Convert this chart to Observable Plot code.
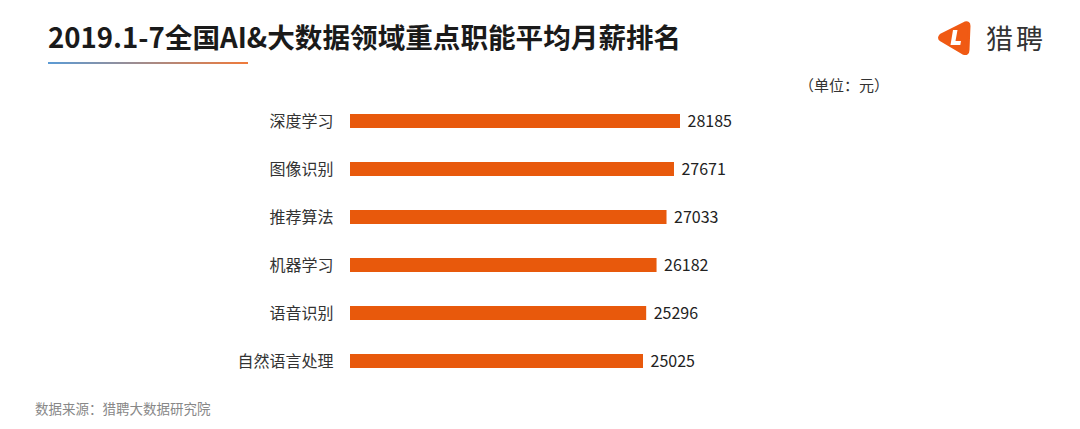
<!DOCTYPE html>
<html><head><meta charset="utf-8">
<script src="https://cdn.jsdelivr.net/npm/d3@7"></script>
<script src="https://cdn.jsdelivr.net/npm/@observablehq/plot@0.6"></script>
<style>
html,body{margin:0;padding:0;background:#fff;width:1080px;height:429px;overflow:hidden;font-family:"Microsoft YaHei","Noto Sans CJK SC","Noto Sans",sans-serif;}
#wrap{position:relative;width:1080px;height:429px;}
#title{position:absolute;left:48px;top:16px;font-size:27.6px;line-height:40px;font-weight:bold;color:#1a1a1a;white-space:nowrap;}
#line{position:absolute;left:48px;top:62px;width:200px;height:2px;background:linear-gradient(to right,#5b9bd5,#f07a3a);}
#logo{position:absolute;left:936px;top:20px;display:flex;align-items:center;}
#logo span{font-size:27px;line-height:36px;color:#333;margin-left:14px;letter-spacing:3px;}
#unit{position:absolute;left:799px;top:75px;font-size:15px;line-height:20px;color:#333;white-space:nowrap;}
#chart{position:absolute;left:0;top:97px;}
#chart svg{display:block;}
#source{position:absolute;left:35px;top:398px;font-size:13.5px;line-height:20px;color:#888;white-space:nowrap;}
</style></head>
<body><div id="wrap">
<div id="title">2019.1-7全国AI&amp;大数据领域重点职能平均月薪排名</div>
<div id="line"></div>
<div id="logo"><svg width="36" height="36" viewBox="0 0 36 36"><path d="M5 15 Q2 18 5 20 L27 33 Q32 35 32 30 L33 6 Q33 2 29 3 Z" fill="#f05a14" stroke="#f05a14" stroke-width="3" stroke-linejoin="round"/><path d="M17 10 L21.5 10 L19.5 21 L25 21 L24.3 25 L14.5 25 Z" fill="#fff"/></svg><span>猎聘</span></div>
<div id="unit">（单位：元）</div>
<div id="chart"></div>
<div id="source">数据来源：猎聘大数据研究院</div>
</div>
<script>
const categories = ["深度学习","图像识别","推荐算法","机器学习","语音识别","自然语言处理"];
const salaries = [28185, 27671, 27033, 26182, 25296, 25025];
const data = categories.map((c,i)=>({cat:c, value:salaries[i]}));
const chart = Plot.plot({
  width:1080, height:289,
  marginLeft:350, marginRight:400, marginTop:0, marginBottom:0,
  style:{fontFamily:'"Microsoft YaHei","Noto Sans CJK SC",sans-serif', fontSize:"16px", color:"#333", background:"transparent"},
  x:{domain:[0,28185], axis:null},
  y:{domain:categories, paddingInner:0.7, paddingOuter:0.36, label:null},
  marks:[
    Plot.barX(data,{x:"value", y:"cat", fill:"#e8590c"}),
    Plot.text(data,{x:"value", y:"cat", text:d=>String(d.value), textAnchor:"start", dx:7, fontSize:16, fill:"#222"}),
    Plot.axisY({tickSize:0, tickPadding:17, fontSize:16, label:null, fill:"#333"})
  ]
});
document.getElementById("chart").appendChild(chart);
</script>
</body></html>
